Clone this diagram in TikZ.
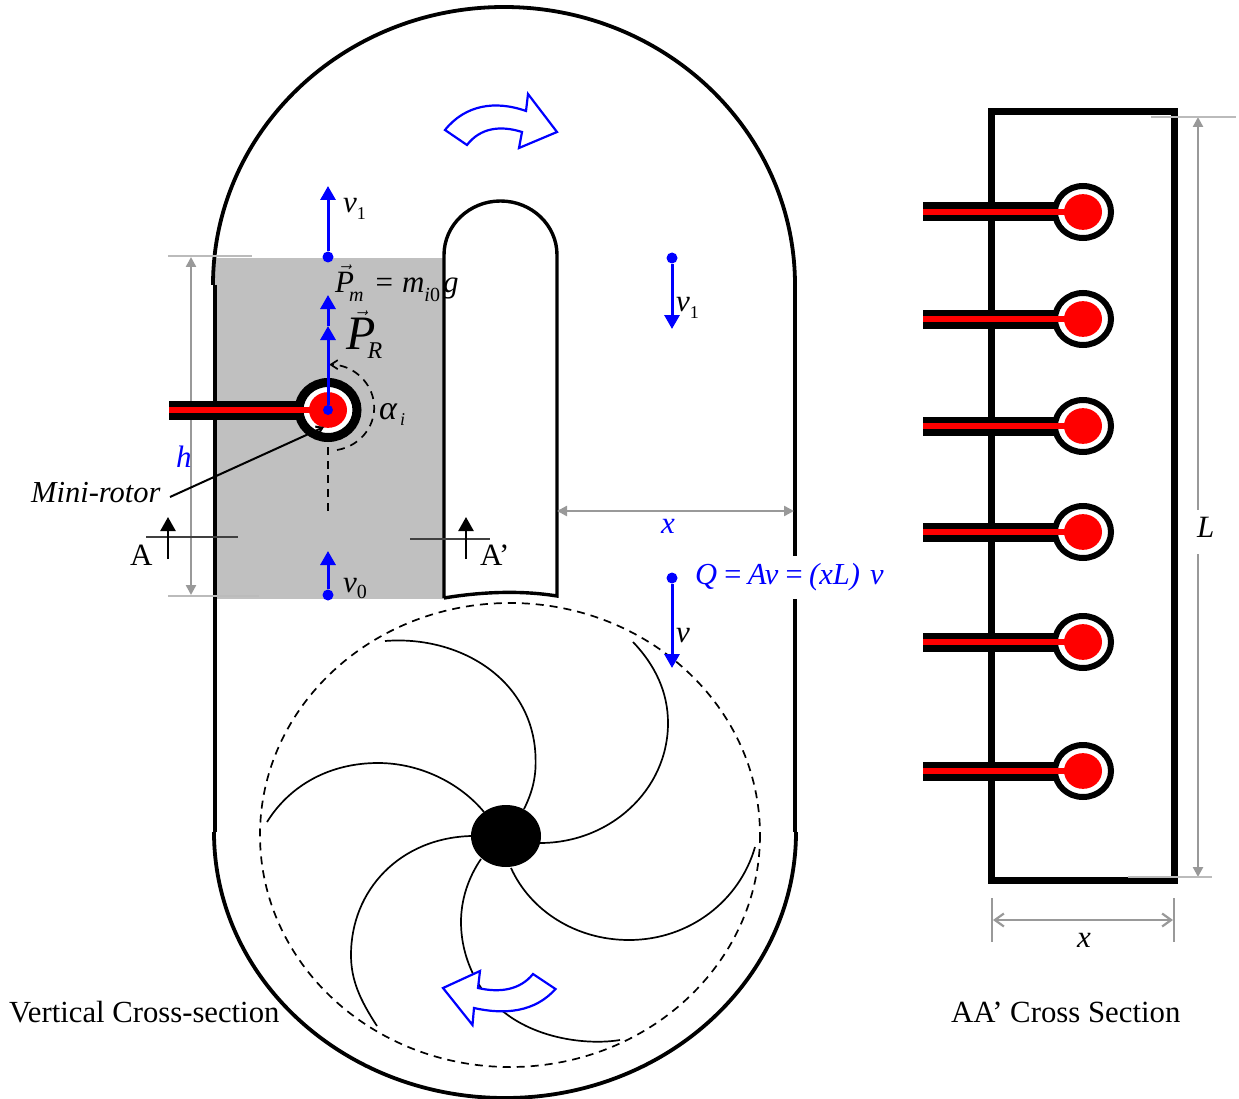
\documentclass[tikz,border=0pt]{standalone}
\usepackage{fontspec}
\setmainfont{Liberation Serif}
\usetikzlibrary{arrows.meta,shapes.geometric}
\definecolor{dimgray}{HTML}{999999}
\definecolor{extgray}{HTML}{BBBBBB}
\definecolor{fillgray}{HTML}{C0C0C0}
\definecolor{pureblue}{RGB}{0,0,255}
\newcommand{\fs}[1]{\fontsize{#1}{#1}\selectfont}
\newcommand{\subtxt}[2]{\raisebox{-0.22em}{\fs{#1}#2}}
\tikzset{
  wall/.style={line width=3.8pt,black},
  thickwall/.style={line width=7pt,black},
  flow/.style={line width=3pt,pureblue,-{Triangle[length=14pt,width=15pt]}},
  dot/.style={circle,fill=pureblue,inner sep=0pt,minimum size=11pt},
  dim/.style={line width=2.4pt,dimgray,{Triangle[length=10pt,width=10pt]}-{Triangle[length=10pt,width=10pt]}},
  dimopen/.style={line width=2.2pt,dimgray,{Straight Barb[length=9pt,width=13pt]}-{Straight Barb[length=9pt,width=13pt]}},
  dimend/.style={line width=1.5pt,extgray},
  blade/.style={line width=1.7pt,black},
  turn/.style={line width=2.2pt,pureblue,line join=miter},
  lab/.style={inner sep=0pt,anchor=base west,font=\fs{31}},
  blab/.style={lab,text=pureblue},
  section/.style={line width=1.1pt,black!75},
  sectarrow/.style={line width=2.4pt,black,-{Triangle[length=14pt,width=15pt]}},
  dashline/.style={line width=1.7pt,dash pattern=on 8pt off 6pt},
}
\newcommand{\rotor}[8]{% name,x,y,rx,ry,ring width,red r,tube left
  \coordinate (#1) at (#2,#3);
  \fill[black] (#8,#3-9.5) rectangle (#2-20,#3+9.5);
  \draw[line width=#6pt,black,fill=white] (#1) ellipse [x radius=#4,y radius=#5];
  \fill[red] (#8,#3-3.2) rectangle (#2-10,#3+3.2);
  \fill[red] (#1) ellipse [x radius=#7,y radius=#7*0.94];
}
\begin{document}
\begin{tikzpicture}[x=1pt,y=-1pt]
\useasboundingbox (0,0) rectangle (1239,1099);
% shaded region
\fill[fillgray] (214,258) rectangle (444,599);
% outer casing
\draw[wall] (213,285) arc[start angle=180,end angle=360,x radius=291,y radius=278];
\draw[wall] (215,285) -- (215,832);
\draw[wall] (795,285) -- (795,556);
\draw[wall] (795,599) -- (795,832);
\draw[wall] (214,832) arc[start angle=180,end angle=0,x radius=291,y radius=266];
% inner U
\draw[line width=3.4pt,black] (444,598) -- (444,255) arc[start angle=180,end angle=360,x radius=56.5,y radius=54] -- (557,596)
  .. controls (520,590) and (480,592) .. (444,598);
% dashed impeller circle
\draw[dashline] (510,835) ellipse [x radius=250,y radius=232];
% blades
\draw[blade] (385,641) .. controls (460,635) and (535,680) .. (535.6,760) .. controls (536,778) and (532,793) .. (524,809);
\draw[blade] (633,642) .. controls (655,665) and (668,692) .. (668,723) .. controls (668,790) and (610,843) .. (540,843);
\draw[blade] (755,847) .. controls (740,900) and (690,940) .. (629,940) .. controls (575,940) and (530,910) .. (511,868);
\draw[blade] (620,1040) .. controls (590,1045) and (540,1040) .. (505,1013) .. controls (480,995) and (461,960) .. (461,922) .. controls (461,900) and (468,878) .. (481,859);
\draw[blade] (377,1026) .. controls (360,1000) and (351,980) .. (351,955) .. controls (351,890) and (400,838) .. (471,836);
\draw[blade] (267,822) .. controls (290,785) and (330,763) .. (378,763) .. controls (420,763) and (460,783) .. (484,812);
\node[ellipse,fill=black,minimum width=70pt,minimum height=62pt,inner sep=0pt] (hub) at (506,836) {};
% rotation arrows
\draw[turn] (445,130) .. controls (465,105) and (495,100) .. (526,111) -- (528,94) -- (557,132) -- (519,148) -- (522,132)
  .. controls (500,125) and (480,128) .. (467,145) -- cycle;
\draw[turn,fill=white] (443,988) -- (480,971) -- (478,988) .. controls (500,993) and (520,990) .. (533,974)
  -- (555.5,989) .. controls (535,1012) and (505,1015) .. (474,1008) -- (472.5,1025) -- cycle;
% dimension lines, left
\coordinate (hT) at (191,257); \coordinate (hB) at (191,595);
\draw[dim] (hT) -- (hB);
\draw[dimend] (168,256) -- (252,256);
\draw[dimend] (168,596) -- (259,596);
% left rotor
\rotor{rotL}{328}{410}{29}{27.5}{9}{19}{169}
% section marks
\draw[section] (146,537) -- (238,537);
\draw[section] (410,539) -- (490,539);
\coordinate (aS) at (168,559); \coordinate (aE) at (168,517);
\coordinate (bS) at (466,559); \coordinate (bE) at (466,517);
\draw[sectarrow] (aS) -- (aE);
\draw[sectarrow] (bS) -- (bE);
% dashed axis and angle
\draw[dashline] (328,433) -- (328,513);
\draw[dashline,-{Straight Barb[length=7pt,width=9pt]}] (337,450) arc[start angle=80,end angle=-90,x radius=45,y radius=43];
% leader
\node[lab,font=\fs{30.5}\itshape] (mini) at (31,502) {Mini-rotor};
\coordinate (lead) at (170,497);
\draw[line width=2pt,-{Straight Barb[length=6pt,width=8pt]}] (lead) -- (324,427);
% blue vectors
\node[dot] (d1) at (328,257) {};
\coordinate (d1t) at (328,186);
\draw[flow] (d1) -- (d1t);
\node[dot,minimum size=10pt] (d2) at (328,410) {};
\coordinate (d2a) at (328,326); \coordinate (d2b) at (328,295);
\draw[flow] (d2) -- (d2a);
\draw[flow] (d2a) -- (d2b);
\node[dot] (d0) at (328,595) {};
\coordinate (d0t) at (328,551);
\draw[flow] (d0) -- (d0t);
\node[dot] (d3) at (672,258) {};
\coordinate (d3t) at (672,329);
\draw[flow] (d3) -- (d3t);
\node[dot] (d4) at (672,578) {};
\coordinate (d4t) at (672,668);
\draw[flow] (d4) -- (d4t);
% dimension x middle
\coordinate (xL) at (557,511); \coordinate (xR) at (794,511);
\draw[dim] (xL) -- (xR);
% labels
\node[lab] (v1a) at (343,213) {\itshape v\subtxt{18}{\upshape 1}};
\node[lab] (pm) at (335,292) {$\vec{\mbox{\itshape P}}$\hspace{-5pt}\raisebox{-0.3em}{\fs{20}\itshape m}\hspace{12pt}=\hspace{9pt}{\itshape m}\raisebox{-0.3em}{\fs{20}\itshape i\upshape 0}\hspace{3pt}{\itshape g}};
\node[lab,font=\fs{48}] (pr) at (346,349) {$\vec{\mbox{\itshape P}}$\hspace{-8pt}\raisebox{-0.2em}{\fs{24}\itshape R}};
\node[lab,font=\fs{34}] (alpha) at (379,419) {\itshape α\hspace{3pt}\raisebox{-0.2em}{\fs{18}\itshape i}};
\node[blab,font=\fs{31}\itshape] (h) at (176,467) {h};
\node[lab] (A) at (130,565) {A};
\node[lab] (Ap) at (480,565) {A’};
\node[lab] (v0) at (343,592) {\itshape v\subtxt{20}{\upshape 0}};
\node[lab] (v1b) at (676,312) {\itshape v\subtxt{18}{\upshape 1}};
\node[blab,font=\fs{31}\itshape] (xm) at (661,533) {x};
\node[lab,font=\fs{31}\itshape] (v) at (676,642) {v};
\node[lab,text=pureblue,fill=white,font=\fs{30.5}\itshape,text depth=0pt] (Q) at (695,584) {Q\,=\,Av\,=\,(xL)\,\,v};
\node[lab,font=\fs{30.7}] (vcs) at (9,1022) {Vertical Cross-section};
\node[lab,font=\fs{30.8}] (acs) at (951,1022) {AA’ Cross Section};
% right section
\draw[thickwall] (991.5,112) rectangle (1174,880);
\rotor{r1}{1083}{212}{28}{26}{6}{19}{923}
\rotor{r2}{1083}{319}{28}{26}{6}{19}{923}
\rotor{r3}{1083}{426}{28}{26}{6}{19}{923}
\rotor{r4}{1083}{532}{28}{26}{6}{19}{923}
\rotor{r5}{1083}{642}{28}{26}{6}{19}{923}
\rotor{r6}{1083}{771}{28}{26}{6}{19}{923}
% L dimension
\coordinate (LT) at (1198,117); \coordinate (LB) at (1198,877);
\draw[dim] (LT) -- (LB);
\draw[dimend] (1151,117) -- (1236,117);
\draw[dimend] (1128,877) -- (1212,877);
\fill[white] (1192,510) rectangle (1204,554);
\node[lab,font=\fs{31}\itshape] (L) at (1197,537) {L};
% x dimension bottom
\coordinate (x2L) at (993,920); \coordinate (x2R) at (1173,920);
\draw[dimopen] (x2L) -- (x2R);
\draw[dimend,dimgray] (992,898) -- (992,942);
\draw[dimend,dimgray] (1174,898) -- (1174,942);
\node[lab,font=\fs{31}\itshape] (x2) at (1077,947) {x};
\end{tikzpicture}
\end{document}
